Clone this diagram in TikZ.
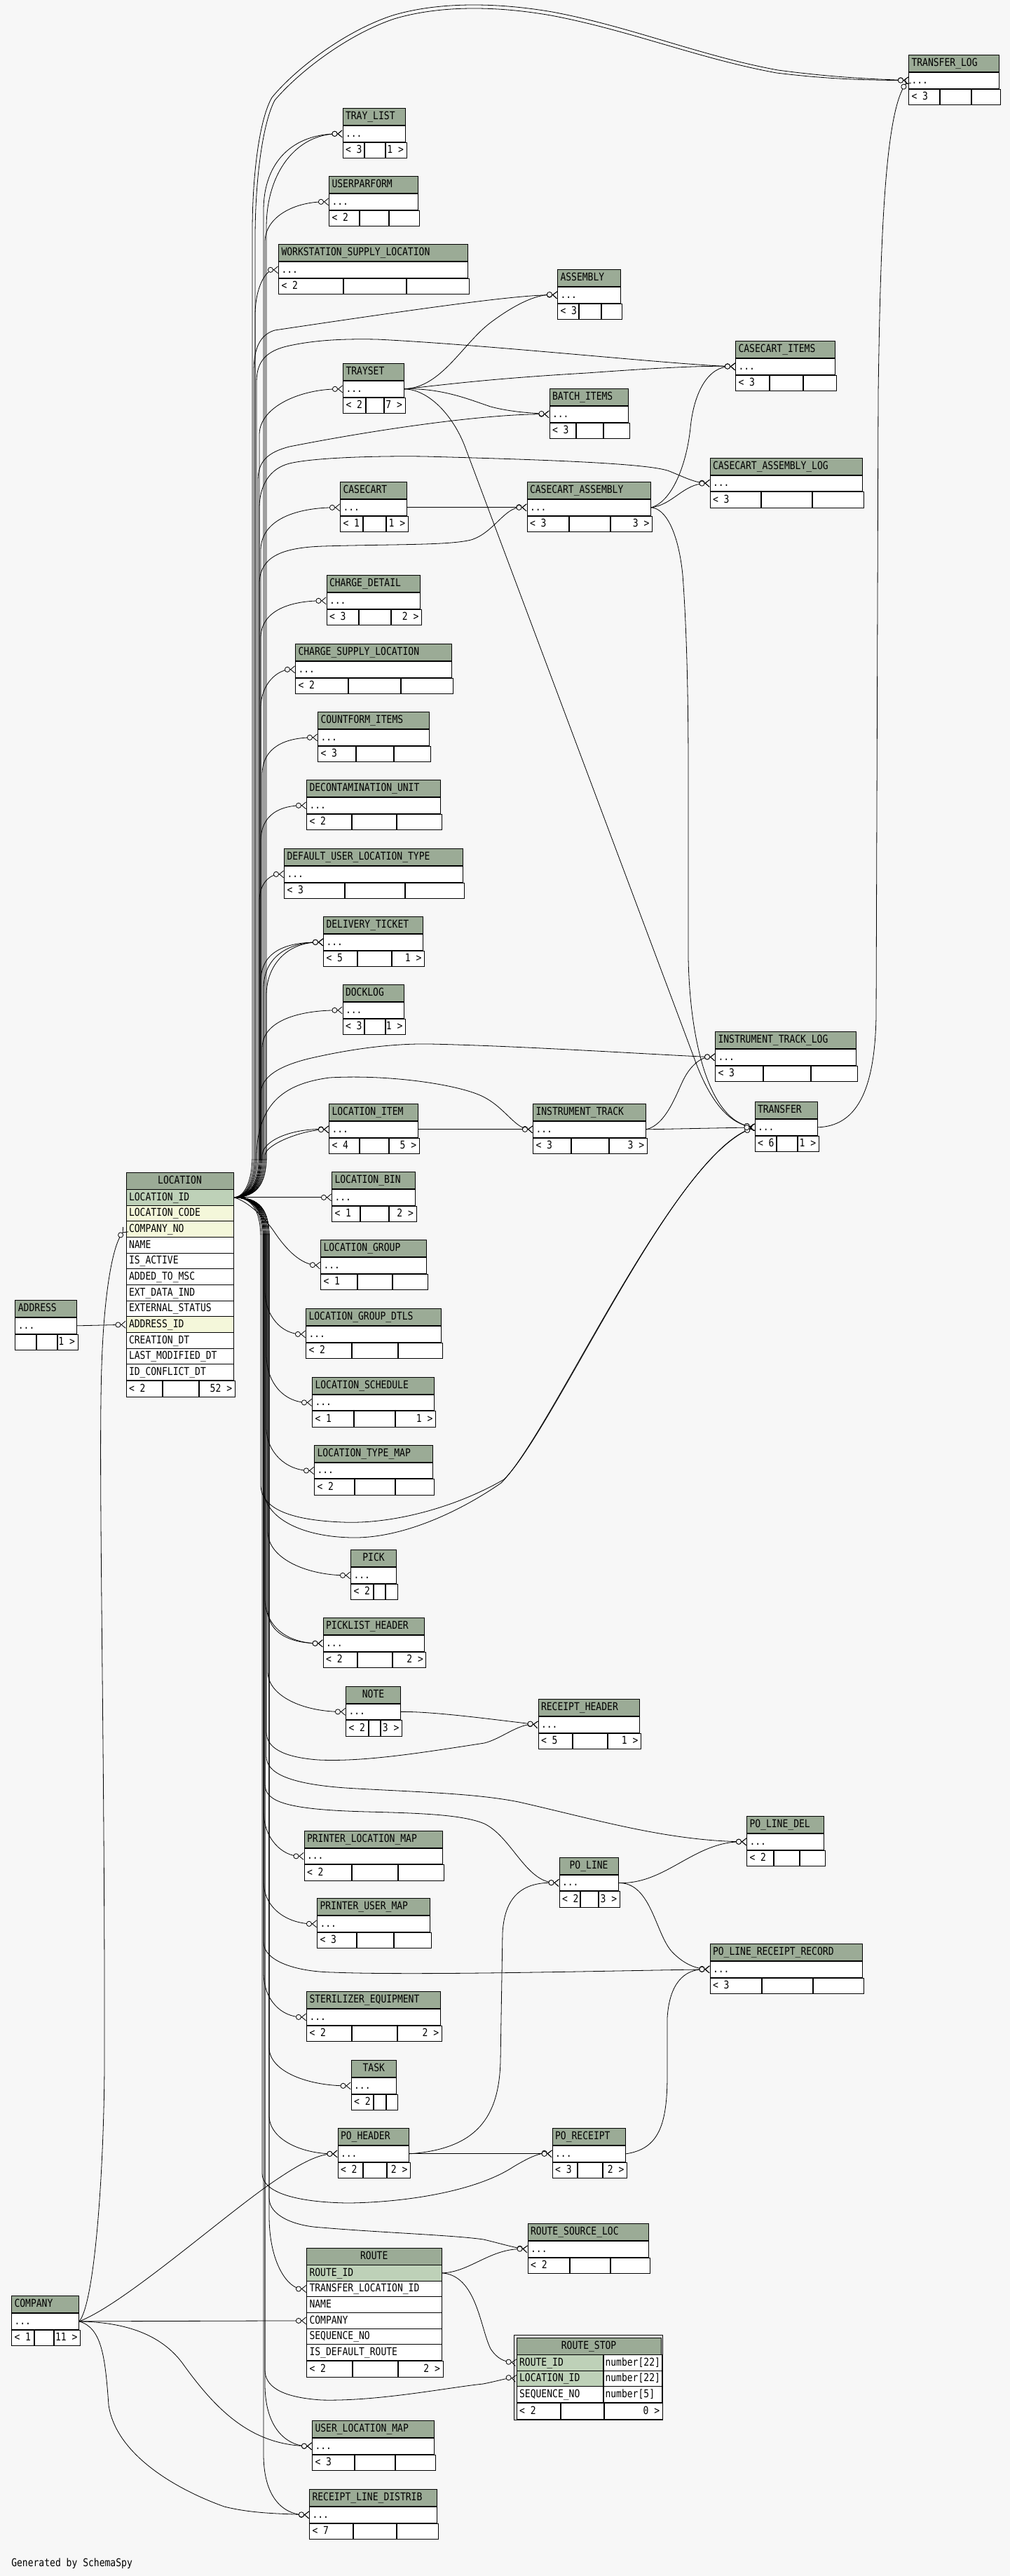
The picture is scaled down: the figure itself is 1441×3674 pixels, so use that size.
\documentclass[tikz,border=0pt]{standalone}
\usepackage{fontspec}
\newfontfamily\tabfont[FakeStretch=0.85]{DejaVu Sans Mono}
\usetikzlibrary{arrows.meta}
\definecolor{bgc}{HTML}{F7F7F7}
\definecolor{hdrc}{HTML}{9BAB96}
\definecolor{pkc}{HTML}{BED1B8}
\definecolor{fkc}{HTML}{F4F7DA}
\tikzset{tblhead/.style={draw,fill=hdrc,anchor=north west,inner xsep=3pt,inner ysep=0pt,minimum height=18pt,text height=8.6pt,text depth=2pt,line width=0.75pt,font=\tabfont\fontsize{11.5pt}{13pt}\selectfont},
  tblrow/.style={tblhead,fill=white,minimum height=17pt},
  fk/.style={line width=0.6pt,-{Circle[length=6pt,fill=bgc]Straight Barb[reversed,length=4.5pt,width=7.5pt]}}}
\newcommand{\ttlpos}{l}
\newcommand{\tblfoot}[7]{%
  \pgfmathsetmacro\fa{(#3-#2)*0.75-6}%
  \pgfmathsetmacro\fb{(#4-#3)*0.75-6}%
  \pgfmathsetmacro\fc{(#5-#4)*0.75-6}%
  \node[tblrow] (#1a) at (#1.south west) {\makebox[\fa pt][l]{#6}};
  \node[tblrow] (#1b) at (#1a.north east) {\makebox[\fb pt]{}};
  \node[tblrow] (#1c) at (#1b.north east) {\makebox[\fc pt][r]{#7}};}
\newcommand{\smalltable}[9]{%
  \pgfmathsetmacro\tw{(#4-#3)*0.75-6}%
  \node[tblhead] (#1h) at (#3,#5) {\makebox[\tw pt][\ttlpos]{#2}};
  \node[tblrow] (#1) at (#1h.south west) {\makebox[\tw pt][l]{...}};
  \tblfoot{#1}{#3}{#6}{#7}{#4}{#8}{#9}}
\newcommand{\locfk}[5]{%
  \pgfmathsetmacro\ys{#3>1707 ? 1767 : 1647}%
  \pgfmathsetmacro\yc{#3>1707 ? 1727 : 1687}%
  \draw[fk] (loc-id.east) .. controls (#2-12,1707.3) and (#2,\yc) .. (#2,\ys) -- (#2,#3) .. controls +(0,#4) and +(-#5,0) .. (#1.west);}
\newcommand{\locvia}[4]{%
  \pgfmathsetmacro\ys{#3>1707 ? 1767 : 1647}%
  \pgfmathsetmacro\yc{#3>1707 ? 1727 : 1687}%
  \draw[fk] (loc-id.east) .. controls (#2-12,1707.3) and (#2,\yc) .. (#2,\ys) -- (#2,#3) #4 (#1.west);}

\begin{document}
\begin{tikzpicture}[x=0.75pt,y=-0.75pt]
  \useasboundingbox (0,0) rectangle (1441,3674);
  \fill[bgc] (0,0) rectangle (1441,3674);

  \pgfmathsetmacro\tw{(332.6-179.5)*0.75-6}
  \node[tblhead] (loch) at (179.5,1672) {\makebox[\tw pt][c]{LOCATION}};
  \foreach \n/\c/\f [count=\i] in {id/LOCATION\_ID/pkc, code/LOCATION\_CODE/fkc, company/COMPANY\_NO/fkc, name/NAME/white, active/IS\_ACTIVE/white, msc/ADDED\_TO\_MSC/white, ext/EXT\_DATA\_IND/white, status/EXTERNAL\_STATUS/white, address/ADDRESS\_ID/fkc, created/CREATION\_DT/white, modified/LAST\_MODIFIED\_DT/white, conflict/ID\_CONFLICT\_DT/white}
    \node[tblrow,fill=\f] (loc-\n) at (179.5,{1696+(\i-1)*22.67}) {\makebox[\tw pt][l]{\c}};
  \tblfoot{loc-conflict}{179.5}{231}{282}{332.6}{< 2}{52 >}

  \pgfmathsetmacro\tw{(629.5-437)*0.75-6}
  \node[tblhead] (routeh) at (437,3206) {\makebox[\tw pt][c]{ROUTE}};
  \foreach \n/\c/\f [count=\i] in {id/ROUTE\_ID/pkc, tloc/TRANSFER\_LOCATION\_ID/white, name/NAME/white, comp/COMPANY/white, seq/SEQUENCE\_NO/white, def/IS\_DEFAULT\_ROUTE/white}
    \node[tblrow,fill=\f] (route-\n) at (437,{3230+(\i-1)*22.67}) {\makebox[\tw pt][l]{\c}};
  \tblfoot{route-def}{437}{502}{565.7}{629.5}{< 2}{2 >}

  \pgfmathsetmacro\tw{(942.6-736.6)*0.75-6}
  \node[tblhead] (rstoph) at (736.6,3334) {\makebox[\tw pt][c]{ROUTE\_STOP}};
  \foreach \n/\c/\t/\f [count=\i] in {rid/ROUTE\_ID/number[22]/pkc, loc/LOCATION\_ID/number[22]/pkc, seq/SEQUENCE\_NO/number[5]/white} {
    \node[tblrow,fill=\f] (rstop-\n) at (736.6,{3358+(\i-1)*22.67}) {\makebox[86.55pt][l]{\c}};
    \node[tblrow,inner xsep=1.5pt] (rstop-\n-t) at (rstop-\n.north east) {\makebox[58.95pt][l]{\t}};
  }
  \tblfoot{rstop-seq}{736.6}{799}{860}{942.6}{< 2}{0 >}
  \draw[line width=0.75pt] (733.4,3330.8) rectangle (945.8,3451.9);

  \smalltable{translog}{TRANSFER\_LOG}{1296}{1425}{78}{1340}{1384}{< 3}{}
  \smalltable{traylist}{TRAY\_LIST}{488.5}{577.5}{154}{519}{548}{< 3}{1 >}
  \smalltable{userparform}{USERPARFORM}{469}{595.6}{251}{512}{553}{< 2}{}
  \smalltable{wsloc}{WORKSTATION\_SUPPLY\_LOCATION}{397}{667}{348}{488.5}{577.5}{< 2}{}
  \smalltable{assembly}{ASSEMBLY}{795}{884.5}{384}{825}{856}{< 3}{}
  \smalltable{ccitems}{CASECART\_ITEMS}{1049}{1191}{486}{1097}{1144}{< 3}{}
  \smalltable{trayset}{TRAYSET}{489}{575.5}{518}{520.5}{545.5}{< 2}{7 >}
  \smalltable{batch}{BATCH\_ITEMS}{783.5}{896}{554}{821}{859}{< 3}{}
  \smalltable{ccalog}{CASECART\_ASSEMBLY\_LOG}{1012.5}{1229.6}{652.5}{1085}{1157}{< 3}{}
  \smalltable{casecart}{CASECART}{485}{579.6}{687}{517}{549}{< 1}{1 >}
  \smalltable{ccassembly}{CASECART\_ASSEMBLY}{751.5}{928}{687}{811}{869}{< 3}{3 >}
  \smalltable{chdetail}{CHARGE\_DETAIL}{465.5}{599}{820}{510.7}{556}{< 3}{2 >}
  \smalltable{chsupply}{CHARGE\_SUPPLY\_LOCATION}{421}{643.7}{918}{496}{570}{< 2}{}
  \smalltable{countform}{COUNTFORM\_ITEMS}{453}{611.7}{1015}{507}{559.5}{< 3}{}
  \smalltable{decon}{DECONTAMINATION\_UNIT}{437}{627.7}{1112}{501}{564}{< 2}{}
  \smalltable{defloc}{DEFAULT\_USER\_LOCATION\_TYPE}{405}{659.7}{1210}{491}{575.5}{< 3}{}
  \smalltable{delivery}{DELIVERY\_TICKET}{461}{603}{1307}{509}{556.7}{< 5}{1 >}
  \smalltable{docklog}{DOCKLOG}{488.5}{576}{1404}{519}{548}{< 3}{1 >}
  \smalltable{itlog}{INSTRUMENT\_TRACK\_LOG}{1020}{1221}{1471}{1088}{1155}{< 3}{}
  \smalltable{locitem}{LOCATION\_ITEM}{469}{595.6}{1574}{512}{553}{< 4}{5 >}
  \smalltable{itrack}{INSTRUMENT\_TRACK}{760}{920.6}{1574}{813.5}{867}{< 3}{3 >}
  \smalltable{transfer}{TRANSFER}{1076.5}{1165.6}{1571}{1107}{1136}{< 6}{1 >}
  \smalltable{locbin}{LOCATION\_BIN}{473}{591.5}{1671}{513}{552.5}{< 1}{2 >}
  \smalltable{locgroup}{LOCATION\_GROUP}{457}{607.5}{1768}{508.7}{558}{< 1}{}
  \smalltable{locgdtls}{LOCATION\_GROUP\_DTLS}{436}{629}{1866}{501}{565.7}{< 2}{}
  \smalltable{locsched}{LOCATION\_SCHEDULE}{445}{619}{1963.5}{504}{561.5}{< 1}{1 >}
  \smalltable{loctype}{LOCATION\_TYPE\_MAP}{448}{617}{2060.6}{505}{561.5}{< 2}{}
  {\renewcommand{\ttlpos}{c}\smalltable{pick}{PICK}{500}{565}{2210}{531.6}{548}{< 2}{}}
  \smalltable{picklist}{PICKLIST\_HEADER}{460.6}{605.4}{2307}{509}{558}{< 2}{2 >}
  {\renewcommand{\ttlpos}{c}\smalltable{note}{NOTE}{493}{571}{2404.5}{524.7}{541}{< 2}{3 >}}
  \smalltable{rcpthdr}{RECEIPT\_HEADER}{767.5}{912}{2423}{816}{865}{< 5}{1 >}
  \smalltable{polinedel}{PO\_LINE\_DEL}{1065}{1175}{2590}{1103}{1139}{< 2}{}
  {\renewcommand{\ttlpos}{c}\smalltable{poline}{PO\_LINE}{797.5}{881.7}{2648.6}{827.4}{852.4}{< 2}{3 >}}
  \smalltable{prnloc}{PRINTER\_LOCATION\_MAP}{433.5}{631}{2610.5}{501}{565.7}{< 2}{}
  \smalltable{prnuser}{PRINTER\_USER\_MAP}{452}{613}{2707}{508}{560}{< 3}{}
  \smalltable{polrr}{PO\_LINE\_RECEIPT\_RECORD}{1012.5}{1229.6}{2772}{1085.6}{1158}{< 3}{}
  \smalltable{steril}{STERILIZER\_EQUIPMENT}{437}{627.7}{2840}{501}{565}{< 2}{2 >}
  {\renewcommand{\ttlpos}{c}\smalltable{task}{TASK}{500.6}{565}{2938}{532}{548.5}{< 2}{}}
  \smalltable{pohdr}{PO\_HEADER}{481.5}{583}{3035}{516.6}{549.7}{< 2}{2 >}
  \smalltable{porcpt}{PO\_RECEIPT}{787.6}{892}{3035}{823}{857.8}{< 3}{2 >}
  \smalltable{rsrcloc}{ROUTE\_SOURCE\_LOC}{752.6}{924.7}{3171}{812}{868.6}{< 2}{}
  \smalltable{userloc}{USER\_LOCATION\_MAP}{445}{619}{3452}{504.5}{562}{< 3}{}
  \smalltable{rld}{RECEIPT\_LINE\_DISTRIB}{441}{623}{3550}{503}{564}{< 7}{}
  \smalltable{address}{ADDRESS}{21.4}{108.5}{1854}{51.3}{79.5}{}{1 >}
  \smalltable{company}{COMPANY}{16}{112}{3274}{48}{75}{< 1}{11 >}

  \locvia{translog}{360}{330}{.. controls (360,250) and (370,170) .. (388,139) .. controls (420,100) and (490,45) .. (560,22) .. controls (620,4) and (700,2) .. (788,17) .. controls (900,38) and (1000,80) .. (1110,100) .. controls (1200,112) and (1260,113) ..}
  \locvia{translog}{364}{340}{.. controls (364,255) and (375,175) .. (392,143) .. controls (425,104) and (494,50) .. (562,27) .. controls (622,9) and (700,7) .. (786,22) .. controls (898,43) and (998,84) .. (1108,104) .. controls (1198,115) and (1258,114) ..}
  \locfk{traylist}{376}{300}{-70}{70}
  \locfk{traylist}{380}{325}{-80}{65}
  \locfk{userparform}{378}{345}{-35}{50}
  \locfk{wsloc}{364}{450}{-40}{18}
  \locvia{assembly}{362}{530}{.. controls (362,495) and (372,477) .. (392,471) .. controls (600,440) and (740,420) ..}
  \locvia{ccitems}{366}{545}{.. controls (366,515) and (380,500) .. (413,493) .. controls (450,485) and (490,483) .. (538,484) .. controls (700,492) and (960,520) ..}
  \locfk{trayset}{370}{620}{-40}{60}
  \locvia{batch}{368}{685}{.. controls (368,658) and (382,645) .. (413,637) .. controls (550,610) and (700,590) ..}
  \locvia{ccalog}{370}{725}{.. controls (370,692) and (385,668) .. (413,661) .. controls (450,652) and (550,650) .. (607,651) .. controls (750,655) and (925,660) .. (955,672) .. controls (975,680) and (990,688) ..}
  \locfk{casecart}{372}{785}{-45}{60}
  \locvia{ccassembly}{370}{830}{.. controls (372,795) and (400,781) .. (461,779) .. controls (560,776) and (640,778) .. (672,770) .. controls (705,760) and (720,722) ..}
  \locfk{chdetail}{372}{910}{-40}{50}
  \locfk{chsupply}{372}{1010}{-35}{25}
  \locfk{countform}{374}{1105}{-40}{45}
  \locfk{decon}{372}{1200}{-40}{35}
  \locfk{defloc}{370}{1285}{-25}{20}
  \locfk{delivery}{372}{1400}{-45}{50}
  \locfk{delivery}{376}{1410}{-45}{50}
  \locfk{delivery}{380}{1420}{-45}{50}
  \locfk{docklog}{374}{1495}{-40}{60}
  \locvia{itlog}{372}{1560}{.. controls (372,1535) and (400,1520) .. (440,1510) .. controls (500,1496) and (560,1488) .. (614,1489) .. controls (750,1492) and (930,1504) ..}
  \locvia{itrack}{366}{1647}{.. controls (368,1570) and (410,1545) .. (470,1537) .. controls (560,1532) and (660,1548) .. (691,1565) .. controls (720,1580) and (735,1609) ..}
  \locvia{locitem}{374}{1647}{.. controls (376,1625) and (420,1609) ..}
  \locvia{locitem}{378}{1647}{.. controls (380,1632) and (430,1612) ..}
  \locvia{transfer}{372}{2120}{.. controls (374,2150) and (410,2168) .. (489,2171) .. controls (560,2174) and (650,2150) .. (719,2110) .. controls (790,2040) and (960,1650) ..}
  \locvia{transfer}{376}{2125}{.. controls (378,2165) and (430,2192) .. (503,2193) .. controls (570,2194) and (650,2160) .. (715,2115) .. controls (786,2045) and (956,1655) ..}
  \draw[fk] (loc-id.east) -- (locbin.west);
  \draw[fk] (loc-id.east) .. controls (350,1712) and (372,1730) .. (390,1755) .. controls (410,1785) and (430,1803) .. (locgroup.west);
  \locfk{locgdtls}{378}{1841}{35}{35}
  \locfk{locsched}{380}{1932}{40}{40}
  \locfk{loctype}{380}{2036}{35}{40}
  \locfk{pick}{382}{2184}{40}{60}
  \locfk{picklist}{378}{2280}{40}{50}
  \locfk{picklist}{382}{2295}{35}{45}
  \locfk{note}{382}{2384}{35}{60}
  \locvia{rcpthdr}{380}{2470}{.. controls (380,2492) and (402,2506) .. (454,2510) .. controls (520,2513) and (600,2500) .. (691,2486) .. controls (715,2480) and (740,2458) ..}
  \locvia{polinedel}{380}{2505}{.. controls (380,2528) and (410,2546) .. (510,2551) .. controls (600,2556) and (680,2558) .. (740,2570) .. controls (850,2595) and (950,2625) ..}
  \locvia{poline}{378}{2545}{.. controls (378,2570) and (410,2581) .. (524,2584) .. controls (600,2586) and (660,2588) .. (691,2601) .. controls (730,2620) and (750,2684) ..}
  \locfk{prnloc}{376}{2583}{40}{30}
  \locfk{prnuser}{376}{2683}{40}{40}
  \locvia{polrr}{376}{2770}{.. controls (376,2796) and (420,2812) .. (475,2813) .. controls (600,2818) and (900,2810) ..}
  \locfk{steril}{376}{2813}{40}{35}
  \locfk{task}{384}{2920}{35}{60}
  \locfk{pohdr}{384}{3017}{35}{50}
  \locvia{porcpt}{374}{3100}{.. controls (374,3126) and (420,3141) .. (497,3142) .. controls (580,3141) and (680,3125) .. (733,3090) .. controls (755,3077) and (770,3070) ..}
  \locvia{rsrcloc}{384}{3135}{.. controls (384,3160) and (420,3175) .. (459,3177) .. controls (540,3184) and (650,3188) .. (690,3194) .. controls (715,3200) and (735,3206) ..}
  \locfk{route-tloc}{384}{3160}{70}{25}
  \locvia{rstop-loc}{378}{3380}{.. controls (378,3402) and (398,3419) .. (459,3423) .. controls (540,3425) and (640,3405) .. (689,3400) .. controls (710,3396) and (725,3391) ..}
  \locfk{userloc}{378}{3400}{70}{30}
  \locfk{rld}{376}{3500}{70}{30}

  \draw[fk] (address.east) -- (loc-address.west);
  \draw[fk] (company.east) .. controls (135,3285) and (148,3100) .. (149,2950) .. controls (150,2500) and (140,2100) .. (145,1950) .. controls (148,1850) and (160,1775) .. (loc-company.west);
  \draw[fk] (company.east) .. controls (180,3285) and (330,3150) .. (400,3105) .. controls (430,3085) and (455,3072) .. (pohdr.west);
  \draw[fk] (company.east) -- (route-comp.west);
  \draw[fk] (company.east) .. controls (180,3312) and (230,3330) .. (260,3370) .. controls (310,3440) and (360,3487) .. (userloc.west);
  \draw[fk] (company.east) .. controls (145,3320) and (150,3360) .. (155,3430) .. controls (165,3500) and (250,3550) .. (320,3575) .. controls (360,3585) and (400,3585) .. (rld.west);
  \draw[fk] (trayset.east) .. controls (630,553) and (660,490) .. (700,460) .. controls (740,430) and (770,419) .. (assembly.west);
  \draw[fk] (trayset.east) .. controls (640,548) and (700,540) .. (837,532) .. controls (920,526) and (1000,521) .. (ccitems.west);
  \draw[fk] (trayset.east) .. controls (630,553) and (670,570) .. (700,580) .. controls (730,588) and (760,589) .. (batch.west);
  \draw[fk] (trayset.east) .. controls (610,555) and (645,590) .. (663,636) -- (990,1508) .. controls (1005,1550) and (1030,1600) .. (transfer.west);
  \draw[fk] (casecart.east) -- (ccassembly.west);
  \draw[fk] (ccassembly.east) .. controls (960,720) and (975,690) .. (ccalog.west);
  \draw[fk] (ccassembly.east) .. controls (960,715) and (980,660) .. (985,610) .. controls (990,560) and (1010,522) .. (ccitems.west);
  \draw[fk] (ccassembly.east) .. controls (950,725) and (968,760) .. (974,820) .. controls (980,900) and (982,1000) .. (982,1100) -- (982,1366) .. controls (984,1480) and (1010,1596) .. (transfer.west);
  \draw[fk] (locitem.east) -- (itrack.west);
  \draw[fk] (itrack.east) -- (transfer.west);
  \draw[fk] (itrack.east) .. controls (950,1605) and (965,1560) .. (975,1540) .. controls (985,1520) and (1000,1507) .. (itlog.west);
  \draw[fk] (transfer.east) .. controls (1220,1606) and (1248,1560) .. (1250,1450) -- (1253,560) .. controls (1256,350) and (1262,160) .. (translog.west);
  \draw[fk] (note.east) .. controls (620,2441) and (700,2452) .. (rcpthdr.west);
  \draw[fk] (poline.east) .. controls (950,2688) and (990,2626) .. (polinedel.west);
  \draw[fk] (poline.east) .. controls (930,2685) and (935,2760) .. (960,2785) .. controls (975,2800) and (990,2807) .. (polrr.west);
  \draw[fk] (pohdr.east) -- (porcpt.west);
  \draw[fk] (pohdr.east) .. controls (680,3065) and (712,3020) .. (714,2940) -- (717,2757) .. controls (720,2700) and (750,2684) .. (poline.west);
  \draw[fk] (porcpt.east) .. controls (940,3065) and (952,3030) .. (952,2960) -- (952,2878) .. controls (955,2830) and (975,2808) .. (polrr.west);
  \draw[fk] (route-id.east) .. controls (670,3241) and (700,3206) .. (rsrcloc.west);
  \draw[fk] (route-id.east) .. controls (680,3245) and (685,3320) .. (700,3350) .. controls (710,3365) and (720,3368) .. (rstop-rid.west);

  \node[anchor=base west,inner sep=0pt,font=\tabfont\fontsize{11.5pt}{13pt}\selectfont] (credit) at (16,3660) {Generated by SchemaSpy};
\end{tikzpicture}
\end{document}
